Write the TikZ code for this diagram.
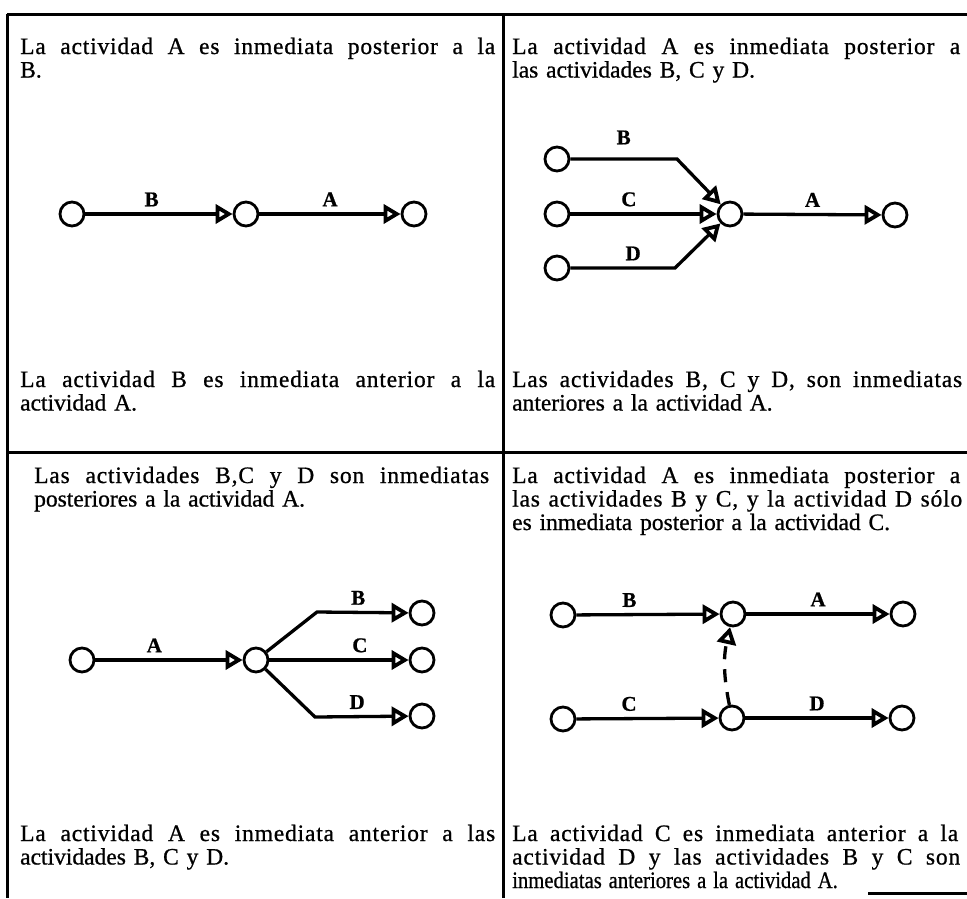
\documentclass[tikz,border=0pt]{standalone}
\usepackage{fontspec}
\usepackage{graphicx}
\setmainfont{Liberation Serif}[FakeStretch=1.0,FakeBold=0.8]
\usetikzlibrary{arrows.meta}
\newcommand{\fl}[2]{\leavevmode\hbox to #1pt{\addfontfeatures{LetterSpace=3.5}\frenchspacing\spaceskip=0.25em plus 1fil\relax #2}}
\begin{document}
\begin{tikzpicture}[x=1pt,y=-1pt,
  ev/.style={circle,draw,line width=2.8pt,minimum size=24pt,inner sep=0pt,fill=white},
  act/.style={line width=3.3pt,-{Triangle[open,length=17pt,width=19pt,line width=3.8pt]}},
  dep/.style={act,dash pattern=on 13pt off 10pt},
  lbl/.style={font=\fontsize{21}{22}\selectfont\bfseries,inner sep=1pt,above=5pt},
  txt/.style={anchor=base west,inner sep=0pt,align=left,font=\fontsize{23.5}{23.5}\selectfont},
  frame/.style={line width=3pt}]
\useasboundingbox (0,0) rectangle (967,898);
% frame
\draw[frame] (7,14) -- (967,14);
\draw[frame] (7,14) -- (7,898);
\draw[frame] (503,14) -- (503,898);
\draw[frame] (7,452) -- (967,452);
\draw[frame] (868,893) -- (967,893);

% ---- texts
\node[txt,text width=480pt] (t1) at (20,54)
  {\fl{475}{La actividad A es inmediata posterior a la}\\B.};
\node[txt,text width=480pt] (t2) at (20,387)
  {\fl{475}{La actividad B es inmediata anterior a la}\\actividad A.};
\node[txt,text width=455pt] (t3) at (512,54)
  {\fl{448}{La actividad A es inmediata posterior a}\\las actividades B, C y D.};
\node[txt,text width=455pt] (t4) at (512,387)
  {\fl{450}{Las actividades B, C y D, son inmediatas}\\anteriores a la actividad A.};
\node[txt,text width=460pt] (t5) at (34,483)
  {\fl{455}{Las actividades B,C y D son inmediatas}\\posteriores a la actividad A.};
\node[txt,text width=455pt] (t6) at (512,483)
  {\fl{448}{La actividad A es inmediata posterior a}\\
   \fl{450}{las actividades B y C, y la actividad D sólo}\\
   es inmediata posterior a la actividad C.};
\node[txt,text width=480pt] (t7) at (20,841)
  {\fl{475}{La actividad A es inmediata anterior a las}\\actividades B, C y D.};
\node[txt,text width=455pt] (t8) at (512,841)
  {\fl{446}{La actividad C es inmediata anterior a la}\\
   \fl{448}{actividad D y las actividades B y C son}\\
   \scalebox{0.88}[1]{inmediatas anteriores a la actividad A.}};

% ---- panel 1
\node[ev] (a1) at (72,214) {};
\node[ev] (a2) at (246,214) {};
\node[ev] (a3) at (414,214) {};
\draw[act] (a1) -- node[lbl,pos=0.45] {B} (a2);
\draw[act] (a2) -- node[lbl,pos=0.5] {A} (a3);

% ---- panel 2
\node[ev] (b1) at (557,159) {};
\node[ev] (b2) at (557,214) {};
\node[ev] (b3) at (557,268) {};
\node[ev] (b4) at (730,214) {};
\node[ev] (b5) at (895,215) {};
\coordinate (bk1) at (677,159);
\coordinate (bk3) at (675,268);
\draw[act] (b1) -- node[lbl,pos=0.5,above=7pt] {B} (bk1) -- (b4);
\draw[act] (b2) -- node[lbl,pos=0.4] {C} (b4);
\draw[act] (b3) -- node[lbl,pos=0.6] {D} (bk3) -- (b4);
\draw[act] (b4) -- node[lbl,pos=0.5] {A} (b5);

% ---- panel 3
\node[ev] (c1) at (82,660) {};
\node[ev] (c2) at (256,660) {};
\node[ev] (c3) at (422,613) {};
\node[ev] (c4) at (422,660) {};
\node[ev] (c5) at (422,716) {};
\coordinate (ck3) at (317,612);
\coordinate (ck5) at (315,717);
\draw[act] (c1) -- node[lbl,pos=0.4] {A} (c2);
\draw[act] (c2) -- (ck3) -- node[lbl,pos=0.45] {B} (c3);
\draw[act] (c2) -- node[lbl,pos=0.65] {C} (c4);
\draw[act] (c2) -- (ck5) -- node[lbl,pos=0.45] {D} (c5);

% ---- panel 4
\node[ev] (d1) at (563,615) {};
\node[ev] (d2) at (733,614) {};
\node[ev] (d3) at (903,614) {};
\node[ev] (d4) at (563,719) {};
\node[ev] (d5) at (732,718) {};
\node[ev] (d6) at (902,718) {};
\draw[act] (d1) -- node[lbl,pos=0.37] {B} (d2);
\draw[act] (d2) -- node[lbl,pos=0.5] {A} (d3);
\draw[act] (d4) -- node[lbl,pos=0.37] {C} (d5);
\draw[act] (d5) -- node[lbl,pos=0.5] {D} (d6);
\draw[dep] (d5) to[bend left=12] (d2);
\end{tikzpicture}
\end{document}
